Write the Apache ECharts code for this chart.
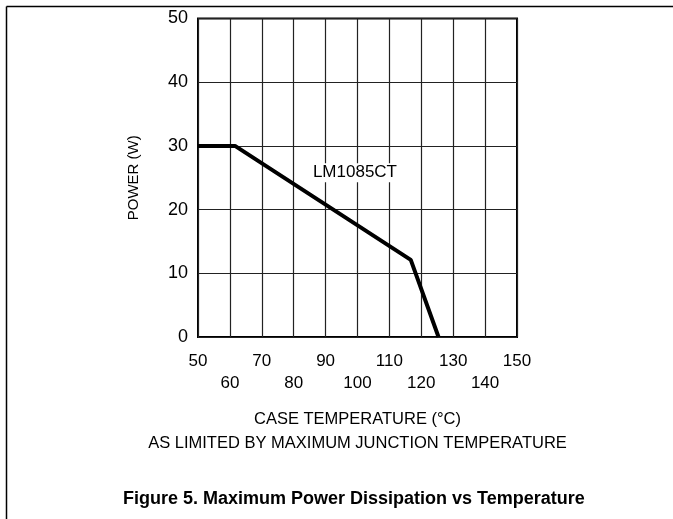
<!DOCTYPE html>
<html>
<head>
<meta charset="utf-8">
<title>Maximum Power Dissipation vs Temperature</title>
<script src="https://cdn.jsdelivr.net/npm/echarts@6/dist/echarts.min.js"></script>
<style>
  html, body { margin: 0; padding: 0; background: #fff; }
  #chart { width: 673px; height: 519px; }
</style>
</head>
<body>
<div id="chart"></div>
<script>
// ------------------------------------------------------------------
// data
// ------------------------------------------------------------------
const caseTemp = [50, 61.6, 116.7, 125.4]   // °C
const power = [30, 30, 12.1, 0]             // W
const xTicks = [50, 60, 70, 80, 90, 100, 110, 120, 130, 140, 150]
const yTicks = [0, 10, 20, 30, 40, 50]
const curveName = 'LM1085CT'
const curveLabelAt = [99.2, 25.8]

const FONT = '"Liberation Sans", "DejaVu Sans", sans-serif'
const ink = '#000'

const chart = echarts.init(document.getElementById('chart'))

chart.setOption({
  animation: false,
  backgroundColor: '#fff',
  title: {
    text: 'Figure 5. Maximum Power Dissipation vs Temperature',
    left: 118,
    top: 485,
    textStyle: { fontFamily: 'Arial, "Liberation Sans", sans-serif', fontSize: 18, fontWeight: 'bold', color: ink },
  },
  grid: {
    left: 198,
    right: 156,
    top: 18.5,
    bottom: 182,
    show: true,
    borderColor: ink,
    borderWidth: 2,
  },
  xAxis: {
    type: 'value',
    min: xTicks[0],
    max: xTicks[xTicks.length - 1],
    interval: 10,
    name: 'CASE TEMPERATURE (°C)\nAS LIMITED BY MAXIMUM JUNCTION TEMPERATURE',
    nameLocation: 'middle',
    nameGap: 70,
    nameTextStyle: { fontFamily: FONT, fontSize: 16.5, color: ink, lineHeight: 24 },
    axisLine: { show: false },
    axisTick: { show: false },
    axisLabel: {
      fontFamily: FONT,
      fontSize: 17,
      color: ink,
      margin: 13,
      lineHeight: 22,
      // alternate labels drop to a second row
      formatter: (v) => (((v - xTicks[0]) / 10) % 2 === 1 ? '\n' + v : '' + v),
    },
    splitLine: { lineStyle: { color: '#222', width: 1.2 } },
  },
  yAxis: {
    type: 'value',
    min: yTicks[0],
    max: yTicks[yTicks.length - 1],
    interval: 10,
    name: 'POWER (W)',
    nameLocation: 'middle',
    nameGap: 57,
    nameTextStyle: { fontFamily: FONT, fontSize: 15, color: ink },
    axisLine: { show: false },
    axisTick: { show: false },
    axisLabel: { fontFamily: FONT, fontSize: 18, color: ink, margin: 10 },
    splitLine: { lineStyle: { color: '#222', width: 1.2 } },
  },
  series: [
    {
      name: curveName,
      type: 'line',
      data: caseTemp.map((t, i) => [t, power[i]]),
      symbol: 'none',
      lineStyle: { color: ink, width: 4 },
    },
    {
      // curve caption
      type: 'scatter',
      data: [curveLabelAt],
      symbolSize: 0,
      itemStyle: { opacity: 1 },
      label: {
        show: true,
        position: 'inside',
        formatter: curveName,
        fontFamily: FONT,
        fontSize: 17,
        color: ink,
        backgroundColor: '#fff',
        padding: [1, 3],
      },
    },
  ],
  graphic: [
    // page frame (top + left rule)
    { type: 'line', shape: { x1: 6.5, y1: 6.5, x2: 673, y2: 6.5 }, style: { stroke: ink, lineWidth: 1.5 } },
    { type: 'line', shape: { x1: 6.5, y1: 6.5, x2: 6.5, y2: 519 }, style: { stroke: ink, lineWidth: 1.5 } },
  ],
})
</script>
</body>
</html>
